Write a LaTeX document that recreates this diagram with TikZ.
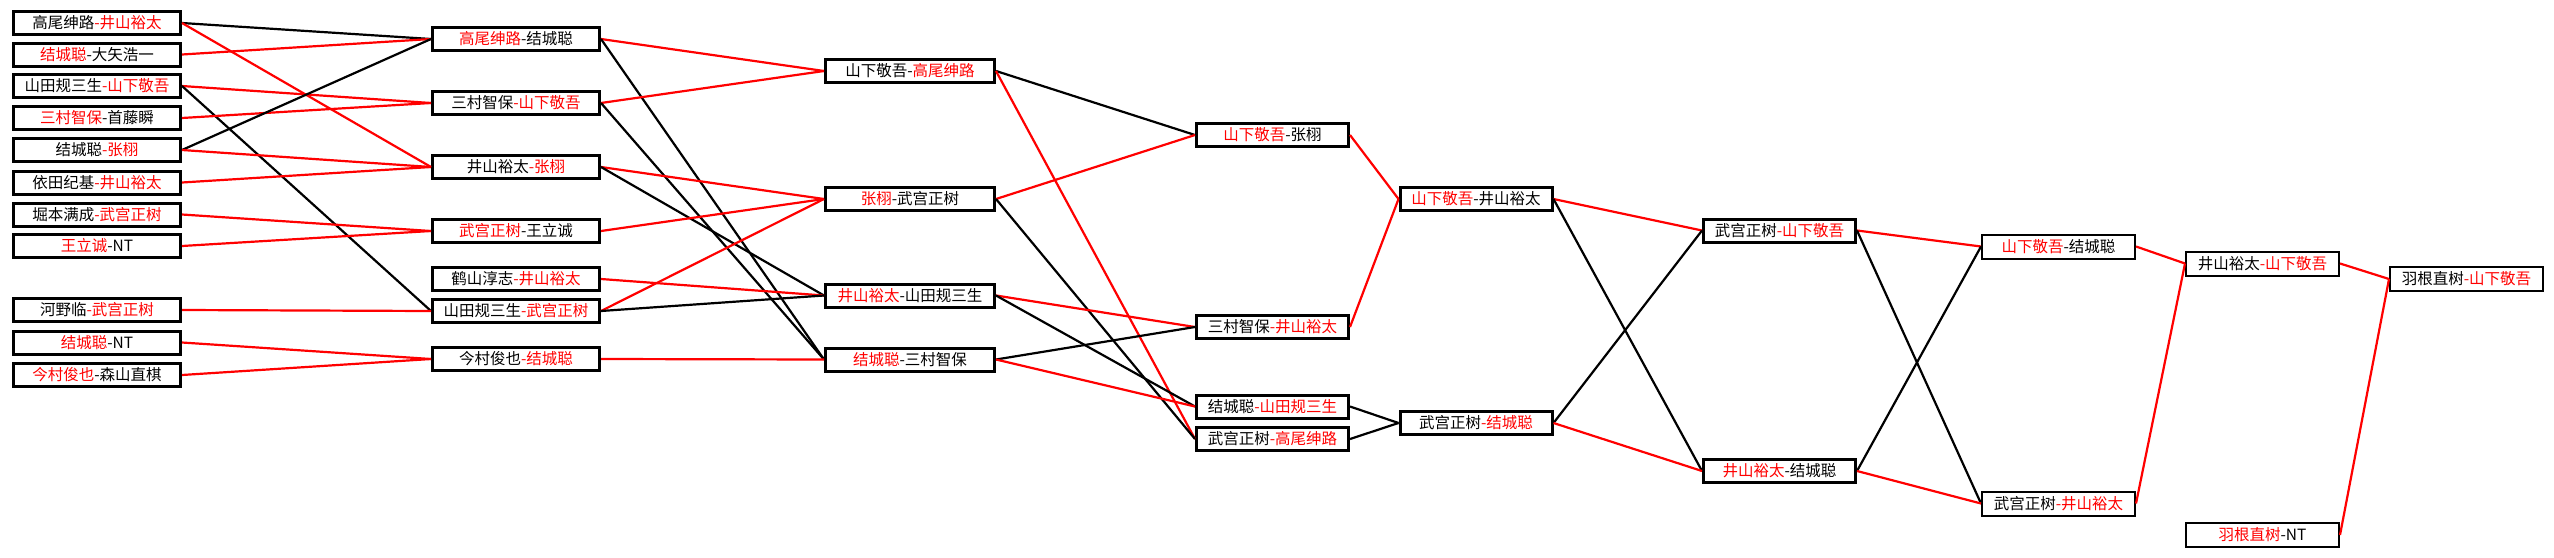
\documentclass[tikz,border=0pt]{standalone}
\usepackage{fontspec}
\newfontfamily\cjk{Noto Sans CJK SC}
\newcommand{\R}[1]{\textcolor{red}{#1}}
\tikzset{
  box/.style={draw=black, line width=3pt, fill=white, minimum height=23pt, inner sep=0pt,
    font=\cjk\fontsize{15.5}{16}\selectfont},
  wbox/.style={box, minimum width=167pt},
  nbox/.style={box, minimum width=152pt},
  tbox/.style={box, line width=2pt, minimum width=153pt, minimum height=24pt},
  win/.style={draw=red, line width=2.2pt},
  lose/.style={draw=black, line width=2.2pt}
}
\begin{document}
\begin{tikzpicture}[x=1pt,y=-1pt]
\useasboundingbox[fill=white] (0,0) rectangle (2554,557);
% column 1
\node[wbox] (b1) at (97,23) {高尾绅路\R{-井山裕太}};
\node[wbox] (b2) at (97,54.5) {\R{结城聪}-大矢浩一};
\node[wbox] (b3) at (97,86) {山田规三生\R{-山下敬吾}};
\node[wbox] (b4) at (97,118) {\R{三村智保}-首藤瞬};
\node[wbox] (b5) at (97,150) {结城聪\R{-张栩}};
\node[wbox] (b6) at (97,182.5) {依田纪基\R{-井山裕太}};
\node[wbox] (b7) at (97,214.5) {堀本满成\R{-武宫正树}};
\node[wbox] (b8) at (97,246) {\R{王立诚}-NT};
\node[wbox] (b9) at (97,310) {河野临\R{-武宫正树}};
\node[wbox] (b10) at (97,342.5) {\R{结城聪}-NT};
\node[wbox] (b11) at (97,375) {\R{今村俊也}-森山直棋};
% column 2
\node[wbox] (c21) at (516,39) {\R{高尾绅路}-结城聪};
\node[wbox] (c22) at (516,103) {三村智保\R{-山下敬吾}};
\node[wbox] (c23) at (516,167) {井山裕太\R{-张栩}};
\node[wbox] (c24) at (516,231) {\R{武宫正树}-王立诚};
\node[wbox] (c25) at (516,279) {鹤山淳志\R{-井山裕太}};
\node[wbox] (c26) at (516,311) {山田规三生\R{-武宫正树}};
\node[wbox] (c27) at (516,359) {今村俊也\R{-结城聪}};
% column 3
\node[wbox, minimum width=169pt] (c31) at (910,71) {山下敬吾-\R{高尾绅路}};
\node[wbox, minimum width=169pt] (c32) at (910,199) {\R{张栩}-武宫正树};
\node[wbox, minimum width=169pt] (c33) at (910,295.5) {\R{井山裕太}-山田规三生};
\node[wbox, minimum width=169pt] (c34) at (910,359.5) {\R{结城聪}-三村智保};
% column 4
\node[nbox] (c41) at (1272.5,135) {\R{山下敬吾}-张栩};
\node[nbox] (c42) at (1272.5,327) {三村智保\R{-井山裕太}};
\node[nbox] (c43) at (1272.5,406.5) {结城聪\R{-山田规三生}};
\node[nbox] (c44) at (1272.5,439) {武宫正树\R{-高尾绅路}};
% column 5
\node[nbox] (c51) at (1476,199) {\R{山下敬吾}-井山裕太};
\node[nbox] (c52) at (1476,423) {武宫正树\R{-结城聪}};
% column 6
\node[nbox] (c61) at (1779.5,230.5) {武宫正树\R{-山下敬吾}};
\node[nbox] (c62) at (1779.5,471) {\R{井山裕太}-结城聪};
% column 7
\node[tbox] (c71) at (2058.5,246.5) {\R{山下敬吾}-结城聪};
\node[tbox] (c72) at (2058.5,503.5) {武宫正树\R{-井山裕太}};
% column 8
\node[tbox] (c81) at (2262.5,263.5) {井山裕太\R{-山下敬吾}};
\node[tbox] (c82) at (2262.5,535) {\R{羽根直树}-NT};
% column 9
\node[tbox] (c91) at (2466.5,279) {羽根直树\R{-山下敬吾}};
% connectors col1 -> col2
\draw[lose] (b1.east) -- (c21.west);
\draw[win] (b1.east) -- (c23.west);
\draw[win] (b2.east) -- (c21.west);
\draw[win] (b3.east) -- (c22.west);
\draw[lose] (b3.east) -- (c26.west);
\draw[win] (b4.east) -- (c22.west);
\draw[lose] (b5.east) -- (c21.west);
\draw[win] (b5.east) -- (c23.west);
\draw[win] (b6.east) -- (c23.west);
\draw[win] (b7.east) -- (c24.west);
\draw[win] (b8.east) -- (c24.west);
\draw[win] (b9.east) -- (c26.west);
\draw[win] (b10.east) -- (c27.west);
\draw[win] (b11.east) -- (c27.west);
% col2 -> col3
\draw[win] (c21.east) -- (c31.west);
\draw[lose] (c21.east) -- (c34.west);
\draw[win] (c22.east) -- (c31.west);
\draw[lose] (c22.east) -- (c34.west);
\draw[win] (c23.east) -- (c32.west);
\draw[lose] (c23.east) -- (c33.west);
\draw[win] (c24.east) -- (c32.west);
\draw[win] (c25.east) -- (c33.west);
\draw[win] (c26.east) -- (c32.west);
\draw[lose] (c26.east) -- (c33.west);
\draw[win] (c27.east) -- (c34.west);
% col3 -> col4
\draw[lose] (c31.east) -- (c41.west);
\draw[win] (c31.east) -- (c44.west);
\draw[win] (c32.east) -- (c41.west);
\draw[lose] (c32.east) -- (c44.west);
\draw[win] (c33.east) -- (c42.west);
\draw[lose] (c33.east) -- (c43.west);
\draw[lose] (c34.east) -- (c42.west);
\draw[win] (c34.east) -- (c43.west);
% col4 -> col5
\draw[win] (c41.east) -- (c51.west);
\draw[win] (c42.east) -- (c51.west);
\draw[lose] (c43.east) -- (c52.west);
\draw[lose] (c44.east) -- (c52.west);
% col5 -> col6
\draw[win] (c51.east) -- (c61.west);
\draw[lose] (c51.east) -- (c62.west);
\draw[lose] (c52.east) -- (c61.west);
\draw[win] (c52.east) -- (c62.west);
% col6 -> col7
\draw[win] (c61.east) -- (c71.west);
\draw[lose] (c61.east) -- (c72.west);
\draw[lose] (c62.east) -- (c71.west);
\draw[win] (c62.east) -- (c72.west);
% col7 -> col8
\draw[win] (c71.east) -- (c81.west);
\draw[win] (c72.east) -- (c81.west);
% col8 -> col9
\draw[win] (c81.east) -- (c91.west);
\draw[win] (c82.east) -- (c91.west);
\end{tikzpicture}
\end{document}
